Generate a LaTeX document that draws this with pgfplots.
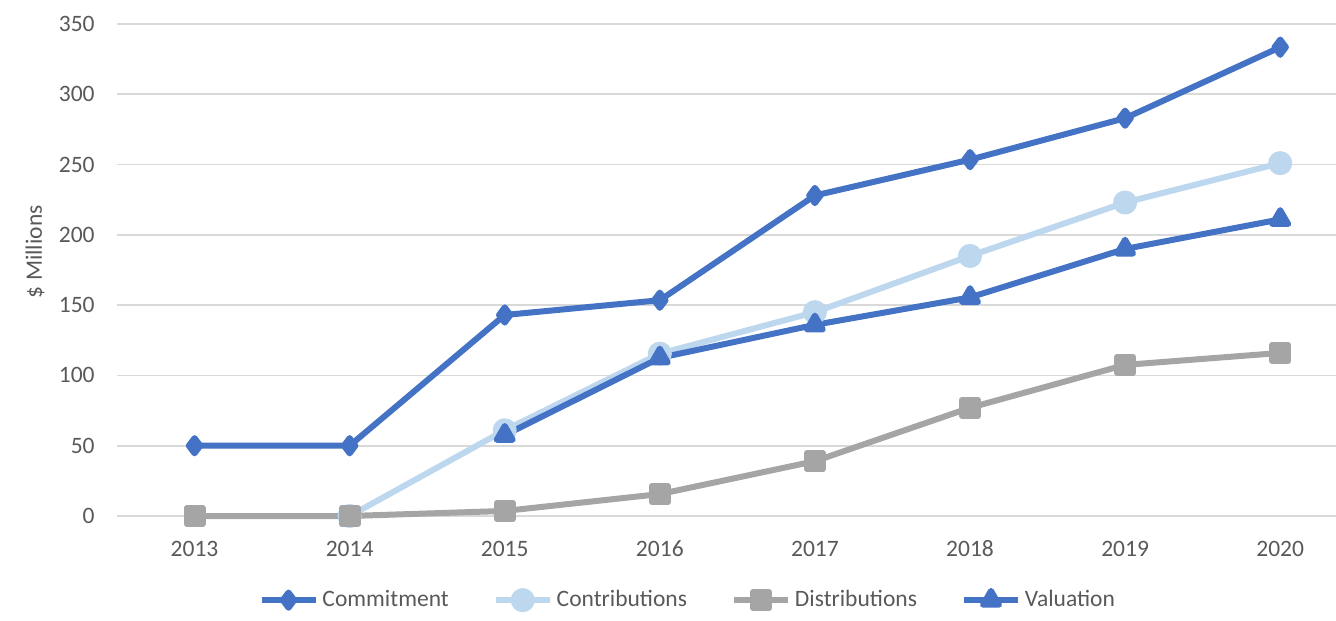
\documentclass[border=0pt]{standalone}
\usepackage{fontspec}
\setmainfont{Carlito}
\usepackage{pgfplots}
\pgfplotsset{compat=1.18}
\definecolor{cblue}{HTML}{4472C4}
\definecolor{clight}{HTML}{BDD7EE}
\definecolor{cgray}{HTML}{A5A5A5}
\definecolor{gridc}{HTML}{D9D9D9}
\definecolor{txt}{HTML}{595959}

\begin{document}
\begin{tikzpicture}[x=1bp,y=1bp]
\path[use as bounding box] (-58.5,-52) rectangle (609.5,258);
\begin{axis}[
  at={(0,0)}, anchor=south west, scale only axis,
  width=609.5bp, height=246bp,
  xmin=-0.5, xmax=7.36, ymin=0, ymax=350,
  clip=false,
  axis line style={draw=none},
  ymajorgrids, grid style={gridc, line width=0.8bp},
  major tick length=0pt,
  tick style={draw=none},
  xtick={0,...,7},
  xticklabels={2013,2014,2015,2016,2017,2018,2019,2020},
  ytick={0,50,...,350},
  /pgf/number format/assume math mode=true,
  tick label style={font=\fontsize{11.8}{14}\selectfont, text=txt},
  xticklabel style={anchor=base, inner sep=0pt, yshift=-20bp},
  yticklabel style={anchor=east, inner sep=0pt, xshift=-11bp},
  ylabel={\$ Millions},
  ylabel style={at={(axis description cs:-0.0673,0.537)}, anchor=center,
    font=\fontsize{11.8}{14}\selectfont, text=txt},
  every axis plot/.append style={line width=3bp, line join=round},
  legend columns=4,
  legend style={at={(axis description cs:0.469,-0.171)}, anchor=center,
    draw=none, fill=none, font=\fontsize{11.8}{14}\selectfont, text=txt,
    /tikz/every even column/.append style={column sep=20bp}},
  legend image code/.code={%
    \draw[mark repeat=2, mark phase=2] plot coordinates {(0bp,0bp) (13.5bp,0bp) (27bp,0bp)};},
]
\addplot[cblue, mark=diamond*, mark size=3.8bp] coordinates {
  (0,50) (1,50) (2,143) (3,153.5) (4,228) (5,253.5) (6,283) (7,333.5)};
\addlegendentry{Commitment}
\addplot[clight, mark=*, mark size=4.5bp] coordinates {
  (1,0) (2,61) (3,115.5) (4,145) (5,185) (6,223) (7,251)};
\addlegendentry{Contributions}
\addplot[cgray, mark=square*, mark size=4bp] coordinates {
  (0,0) (1,0) (2,3.6) (3,15.6) (4,39) (5,77) (6,107.5) (7,116)};
\addlegendentry{Distributions}
\addplot[cblue, mark=triangle*, mark size=4.6bp] coordinates {
  (2,57.5) (3,112.5) (4,136) (5,155.5) (6,190) (7,211)};
\addlegendentry{Valuation}
\end{axis}
\end{tikzpicture}
\end{document}
